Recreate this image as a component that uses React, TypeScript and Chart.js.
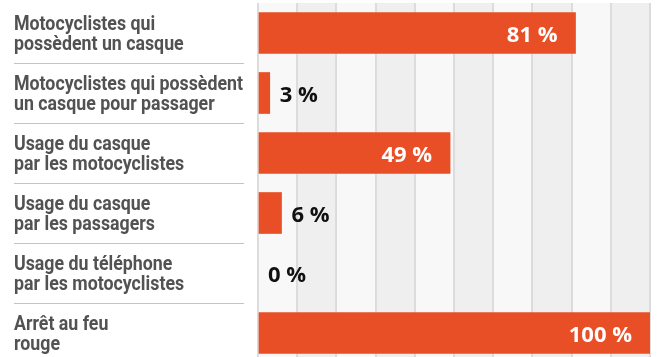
import React, { useEffect, useRef } from "react";
import { Chart, registerables } from "chart.js";

Chart.register(...registerables);

const categories: string[][] = [
  ["Motocyclistes qui", "possèdent un casque"],
  ["Motocyclistes qui possèdent", "un casque pour passager"],
  ["Usage du casque", "par les motocyclistes"],
  ["Usage du casque", "par les passagers"],
  ["Usage du téléphone", "par les motocyclistes"],
  ["Arrêt au feu", "rouge"],
];
const values: number[] = [81, 3, 49, 6, 0, 100];
const valueLabels: string[] = ["81 %", "3 %", "49 %", "6 %", "0 %", "100 %"];

const BAR_COLOR = "#e94f26";
const LABEL_FONT = "bold 20px Roboto";
const LABEL_MAX_WIDTH = 229;

const bandsPlugin = {
  id: "bands",
  beforeDraw(chart: any) {
    const { ctx, chartArea, scales } = chart;
    const xs = scales.x;
    const ticks = xs.ticks;
    ctx.save();
    for (let i = 0; i < ticks.length - 1; i++) {
      const a = xs.getPixelForValue(ticks[i].value);
      const b = xs.getPixelForValue(ticks[i + 1].value);
      ctx.fillStyle = i % 2 === 0 ? "#f8f8f8" : "#efefef";
      ctx.fillRect(a, chartArea.top, b - a, chartArea.bottom - chartArea.top);
    }
    ctx.restore();
  },
};

const categoryLabelsPlugin = {
  id: "categoryLabels",
  afterDraw(chart: any) {
    const { ctx, scales } = chart;
    const ys = scales.y;
    ctx.save();
    ctx.strokeStyle = "#c4c4c4";
    ctx.lineWidth = 1;
    for (let i = 0; i < categories.length - 1; i++) {
      const y = Math.round((ys.getPixelForValue(i) + ys.getPixelForValue(i + 1)) / 2) + 0.5;
      ctx.beginPath();
      ctx.moveTo(ys.left, y);
      ctx.lineTo(ys.right - 14, y);
      ctx.stroke();
    }
    ctx.font = LABEL_FONT;
    let widest = 0;
    categories.forEach((lines) =>
      lines.forEach((l) => {
        widest = Math.max(widest, ctx.measureText(l).width);
      })
    );
    const sx = LABEL_MAX_WIDTH / widest;
    ctx.fillStyle = "#525252";
    ctx.textAlign = "left";
    ctx.textBaseline = "alphabetic";
    categories.forEach((lines, i) => {
      const c = ys.getPixelForValue(i);
      lines.forEach((l, j) => {
        ctx.save();
        ctx.translate(ys.left, c - 3.5 + j * 20.7);
        ctx.scale(sx, 1);
        ctx.fillText(l, 0, 0);
        ctx.restore();
      });
    });
    ctx.restore();
  },
};

const valueLabelPlugin = {
  id: "valueLabels",
  afterDatasetsDraw(chart: any) {
    const { ctx } = chart;
    const meta = chart.getDatasetMeta(0);
    ctx.save();
    ctx.font = "bold 22px 'Open Sans'";
    meta.data.forEach((bar: any, i: number) => {
      const v = values[i];
      const y = bar.y + 9;
      if (v >= 20) {
        ctx.fillStyle = "#ffffff";
        ctx.textAlign = "right";
        ctx.fillText(valueLabels[i], bar.x - 18, y);
      } else {
        ctx.fillStyle = "#111111";
        ctx.textAlign = "left";
        ctx.fillText(valueLabels[i], bar.x + 10, y);
      }
    });
    ctx.restore();
  },
};

export default function App() {
  const ref = useRef<HTMLCanvasElement>(null);
  useEffect(() => {
    if (!ref.current) return;
    const chart = new Chart(ref.current, {
      type: "bar",
      data: {
        labels: categories,
        datasets: [
          {
            data: values,
            backgroundColor: values.map((v) => (v > 0 ? BAR_COLOR : "rgba(0,0,0,0)")),
            borderWidth: 0,
            barThickness: 41,
          },
        ],
      },
      options: {
        indexAxis: "y",
        animation: false,
        responsive: false,
        maintainAspectRatio: false,
        layout: { padding: { left: 14, top: 3, right: 9, bottom: 0 } },
        plugins: {
          legend: { display: false },
          tooltip: { enabled: false },
        },
        scales: {
          x: {
            min: 0,
            max: 100,
            ticks: { display: false, stepSize: 10 },
            grid: { color: "#dcdcdc", lineWidth: 2, drawTicks: false, tickLength: 0 },
            border: { display: false },
          },
          y: {
            grid: { display: false, drawTicks: false },
            border: { display: false },
            ticks: { display: false },
            afterFit(scale: any) {
              scale.width = 244;
              scale.paddingTop = 0;
              scale.paddingBottom = 0;
            },
          },
        },
      },
      plugins: [bandsPlugin, categoryLabelsPlugin, valueLabelPlugin],
    });
    return () => chart.destroy();
  }, []);
  return (
    <div style={{ position: "absolute", left: 0, top: 0, width: 659, height: 363, background: "#fff" }}>
      <canvas ref={ref} width={659} height={363} style={{ width: 659, height: 363 }} />
    </div>
  );
}
